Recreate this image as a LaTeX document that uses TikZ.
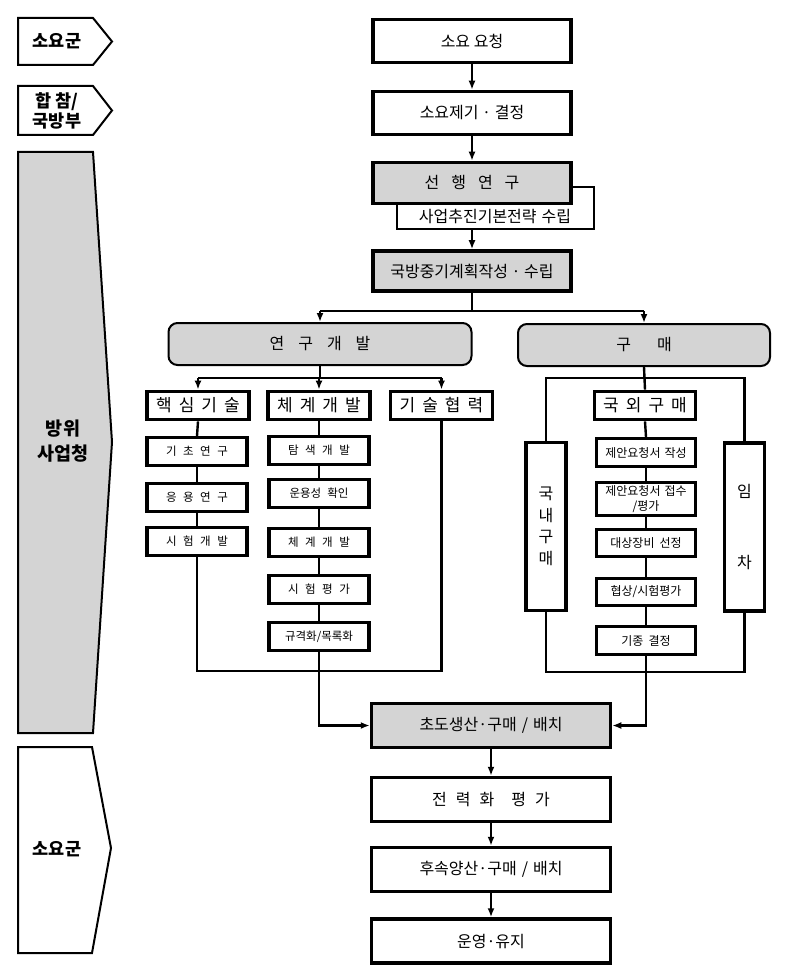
\documentclass[tikz,border=0pt]{standalone}
\usepackage{fontspec}
\setmainfont{Noto Sans CJK KR}
\usetikzlibrary{arrows.meta,calc}
\definecolor{boxgray}{RGB}{212,212,212}
\tikzset{
 line/.style={line width=2.4pt},
 arr/.style={line width=2.4pt,-{Latex[length=9pt,width=7pt]}},
 mainbox/.style={draw,line width=3.5pt,fill=white,minimum width=198pt,minimum height=43pt,inner sep=0pt,font=\fontsize{16}{19}\selectfont},
 graybox/.style={mainbox,fill=boxgray},
 rbox/.style={draw,line width=2pt,rounded corners=9pt,fill=boxgray,minimum height=42pt,inner sep=0pt,font=\fontsize{16}{19}\selectfont},
 headbox/.style={draw,line width=3.8pt,fill=white,minimum width=102pt,minimum height=28pt,inner sep=0pt,font=\fontsize{17}{20}\selectfont},
 subbox/.style={draw,line width=3.2pt,fill=white,minimum width=100pt,minimum height=28pt,inner sep=0pt,font=\fontsize{11.5}{14}\selectfont},
 psub/.style={subbox,minimum width=99pt,font=\fontsize{12}{14}\selectfont,align=center},
 vbox/.style={draw,line width=3.2pt,fill=white,minimum width=40pt,minimum height=168pt,inner sep=0pt,font=\fontsize{16}{21.5}\selectfont,align=center},
 lab/.style={font=\fontsize{17.5}{19.5}\selectfont\bfseries,align=center},
 sidebox/.style={draw,line width=2.2pt,fill=white,inner sep=0pt},
 arrowshape/.style={draw,line width=2pt,fill=white},
}
\newcommand{\ga}{\hspace{7pt}}
\newcommand{\gb}{\hspace{6.5pt}}
\begin{document}
\begin{tikzpicture}[x=1pt,y=-1pt]
\useasboundingbox (0,0) rectangle (796,968);

% left role labels
\draw[arrowshape] (18,18) -- (93,18) -- (112,41.5) -- (93,65) -- (18,65) -- cycle;
\node[lab] (l1) at (57,41.5) {소요군};
\draw[arrowshape] (18,86) -- (93,86) -- (112,110.5) -- (93,135) -- (18,135) -- cycle;
\node[lab] (l2) at (57,111) {합 참/\\국방부};
\draw[arrowshape,fill=boxgray] (18,152) -- (93,152) -- (112,442) -- (93,733) -- (18,733) -- cycle;
\node[lab,font=\fontsize{18.5}{25}\selectfont\bfseries] (l3) at (63,441) {방위\\사업청};
\draw[arrowshape] (18,747) -- (92,747) -- (111,848) -- (92,953) -- (18,953) -- cycle;
\node[lab] (l4) at (57,849) {소요군};

% top chain
\node[mainbox] (req) at (472,41) {소요 요청};
\node[mainbox] (dec) at (472,113) {소요제기 · 결정};
\node[sidebox,minimum width=197pt,minimum height=42pt] (sj) at (495.5,208) {};
\node[graybox,minimum height=41pt] (pre) at (472,183) {선\hspace{12pt}행\hspace{12pt}연\hspace{12pt}구};
\node[font=\fontsize{16}{19}\selectfont] (sjt) at (495,217) {사업추진기본전략\hspace{5pt}수립};
\node[graybox,minimum height=40pt] (mid) at (472,271) {국방중기계획작성 · 수립};

\draw[arr] (req.south) -- (dec.north);
\draw[arr] (dec.south) -- (pre.north);
\draw[arr] (sj.south -| mid.north) -- (mid.north);

% split
\node[rbox,minimum width=303pt] (rd) at (320,344) {연\hspace{14pt}구\hspace{14pt}개\hspace{14pt}발};
\node[rbox,minimum width=252pt] (buy) at (644,345) {구\hspace{26pt}매};
\coordinate (b1) at (472,311);
\draw[line] (mid.south) -- (b1);
\draw[line] (b1 -| rd.north) -- (b1 -| buy.north);
\draw[arr] (b1 -| rd.north) -- (rd.north);
\draw[arr] (b1 -| buy.north) -- (buy.north);

% R&D branch
\node[headbox] (hk) at (198,405.5) {핵\ga 심\ga 기\ga 술};
\node[headbox] (cg) at (319,405.5) {체\ga 계\ga 개\ga 발};
\node[headbox] (gh) at (441.5,405.5) {기\ga 술\ga 협\ga 력};
\coordinate (b2) at (0,378);
\draw[line] (rd.south) -- (rd.south |- b2);
\draw[line] (hk.north |- b2) -- (gh.north |- b2);
\draw[arr] (hk.north |- b2) -- (hk.north);
\draw[arr] (cg.north |- b2) -- (cg.north);
\draw[arr] (gh.north |- b2) -- (gh.north);

\node[subbox] (k1) at (197,451.5) {기\gb 초\gb 연\gb 구};
\node[subbox] (k2) at (197,497.5) {응\gb 용\gb 연\gb 구};
\node[subbox] (k3) at (197,541.5) {시\gb 험\gb 개\gb 발};
\node[subbox] (c1) at (319,450.5) {탐\gb 색\gb 개\gb 발};
\node[subbox] (c2) at (319,493.5) {운용성\hspace{6pt}확인};
\node[subbox] (c3) at (319,542.5) {체\gb 계\gb 개\gb 발};
\node[subbox] (c4) at (319,589.5) {시\gb 험\gb 평\gb 가};
\node[subbox] (c5) at (319,636.5) {규격화/목록화};

\draw[line] (hk.south) -- (k1.north);
\draw[line] (k1.south) -- (k2.north);
\draw[line] (k2.south) -- (k3.north);
\draw[line] (cg.south) -- (c1.north);
\draw[line] (c1.south) -- (c2.north);
\draw[line] (c2.south) -- (c3.north);
\draw[line] (c3.south) -- (c4.north);
\draw[line] (c4.south) -- (c5.north);
\coordinate (b4) at (0,671);
\draw[line] (k3.south) -- (k3.south |- b4) -- (gh.south |- b4) -- (gh.south);

% purchase branch
\node[headbox,minimum width=101pt] (ow) at (645,405.5) {국\ga 외\ga 구\ga 매};
\node[psub] (p1) at (646,452.5) {제안요청서\hspace{4pt}작성};
\node[psub,minimum height=33pt,font=\fontsize{12}{14.5}\selectfont] (p2) at (646,499) {제안요청서\hspace{4pt}접수\\/평가};
\node[psub,minimum height=27pt] (p3) at (646,543) {대상장비\hspace{5pt}선정};
\node[psub,minimum height=27pt] (p4) at (646,592) {협상/시험평가};
\node[psub] (p5) at (646,640.5) {기종\hspace{5pt}결정};
\node[vbox] (ng) at (546,526.5) {국\\내\\구\\매};
\node[vbox] (im) at (744.5,527) {임\\[50pt]차};

\draw[line] (buy.south) -- (ow.north);
\draw[line] (ng.north) -- (ng.north |- b2) -- (im.north |- b2) -- (im.north);
\draw[line] (ow.south) -- (p1.north);
\draw[line] (p1.south) -- (p2.north);
\draw[line] (p2.south) -- (p3.north);
\draw[line] (p3.south) -- (p4.north);
\draw[line] (p4.south) -- (p5.north);
\coordinate (b5) at (0,672);
\draw[line] (ng.south) -- (ng.south |- b5) -- (im.south |- b5) -- (im.south);

% bottom chain
\node[graybox,minimum width=239pt,minimum height=44pt] (cd) at (491,725.5) {초도생산·구매\hspace{5pt}/\hspace{5pt}배치};
\node[mainbox,minimum width=239pt,minimum height=44pt] (ev) at (491,799.5) {전\hspace{9pt}력\hspace{9pt}화\hspace{17pt}평\hspace{9pt}가};
\node[mainbox,minimum width=239pt,minimum height=44pt] (fp) at (491,869.5) {후속양산·구매\hspace{5pt}/\hspace{5pt}배치};
\node[mainbox,minimum width=239pt,minimum height=44pt] (op) at (491,941) {운영·유지};

\draw[arr] (c5.south) |- (cd.west);
\draw[arr] (p5.south) |- (cd.east);
\draw[arr] (cd.south) -- (ev.north);
\draw[arr] (ev.south) -- (fp.north);
\draw[arr] (fp.south) -- (op.north);
\end{tikzpicture}
\end{document}
